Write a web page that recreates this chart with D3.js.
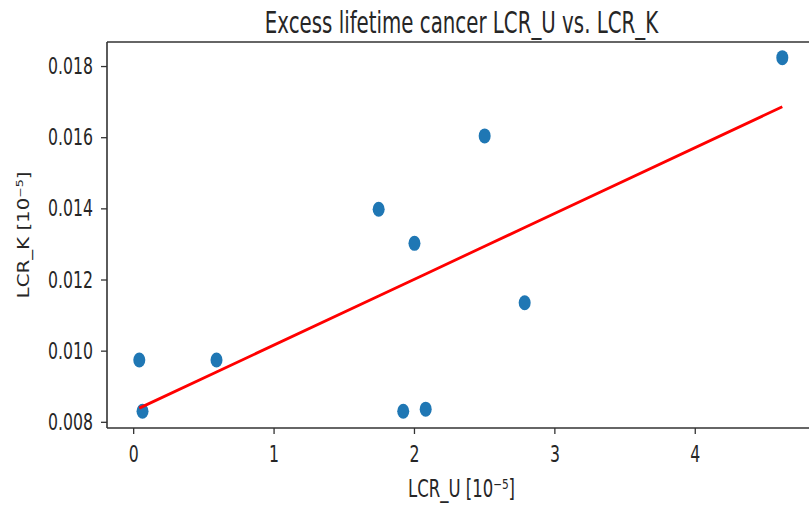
<!DOCTYPE html>
<html><head><meta charset="utf-8">
<script src="https://cdn.jsdelivr.net/npm/d3@7"></script>
<style>body{margin:0;background:#fff}svg{display:block}</style>
</head><body>
<svg id="c" width="809" height="507"></svg>
<script>
const lcrU = [0.04, 0.063, 0.59, 1.745, 2.0, 1.92, 2.08, 2.5, 2.785, 4.62];
const lcrK = [0.00975, 0.00831, 0.00975, 0.01399, 0.01303, 0.00831, 0.00837, 0.01605, 0.01136, 0.01825];
const xTicks = [0, 1, 2, 3, 4];
const yTicks = [0.008, 0.010, 0.012, 0.014, 0.016, 0.018];
const titleText = "Excess lifetime cancer LCR_U vs. LCR_K";
const xLabel = "LCR_U [10\u207B\u2075]";
const yLabel = "LCR_K [10\u207B\u2075]";

const svg = d3.select("#c");
const L = 107, R = 816, T = 42, B = 428;
const SY = 1.48;
const x = d3.scaleLinear().domain([-0.19, 4.86]).range([L, R]);
const y = d3.scaleLinear().domain([0.00784, 0.01869]).range([B, T]);

// regression
const n = lcrU.length;
const mx = d3.mean(lcrU), my = d3.mean(lcrK);
let sxy = 0, sxx = 0;
for (let i = 0; i < n; i++) { sxy += (lcrU[i]-mx)*(lcrK[i]-my); sxx += (lcrU[i]-mx)**2; }
const slope = sxy/sxx, icpt = my - slope*mx;

const font = "DejaVu Sans";
function txt(g, s, px, py, size, anchor, rot, base, sc) {
  const k = sc || SY;
  const t = g.append("g").attr("transform", `translate(${px},${py})` + (rot ? ` rotate(${rot})` : "") + (rot ? ` scale(${k},1)` : ` scale(1,${k})`));
  t.append("text").attr("font-family", font).attr("font-size", size).attr("fill", "#262626")
    .attr("text-anchor", anchor).attr("dominant-baseline", base || "central").text(s);
}

svg.append("clipPath").attr("id", "cp").append("rect").attr("x", L).attr("y", T).attr("width", R-L).attr("height", B-T);

// points
svg.append("g").attr("clip-path", "url(#cp)").selectAll("ellipse").data(d3.range(n)).join("ellipse")
  .attr("cx", i => x(lcrU[i])).attr("cy", i => y(lcrK[i])).attr("rx", 6).attr("ry", 7.5).attr("fill", "#1f77b4");

// regression line through points (as plotted)
const order = d3.range(n).sort((a,b) => lcrU[a]-lcrU[b]);
svg.append("path").attr("fill", "none").attr("stroke", "#ff0000").attr("stroke-width", 2.8)
  .attr("d", d3.line().x(i => x(lcrU[i])).y(i => y(slope*lcrU[i]+icpt))(order));

// spines
const ax = svg.append("g").attr("stroke", "#333").attr("stroke-width", 1.6).attr("fill", "none");
ax.append("line").attr("x1", L).attr("x2", R).attr("y1", T).attr("y2", T);
ax.append("line").attr("x1", L).attr("x2", R).attr("y1", B).attr("y2", B);
ax.append("line").attr("x1", L).attr("x2", L).attr("y1", T).attr("y2", B);
ax.append("line").attr("x1", R).attr("x2", R).attr("y1", T).attr("y2", B);

// ticks
const tg = svg.append("g");
xTicks.forEach(v => {
  tg.append("line").attr("x1", x(v)).attr("x2", x(v)).attr("y1", B).attr("y2", B+6).attr("stroke", "#333").attr("stroke-width", 1.3);
  txt(tg, String(v), x(v), B+26, 15.7, "middle");
});
yTicks.forEach(v => {
  tg.append("line").attr("x1", L-6).attr("x2", L).attr("y1", y(v)).attr("y2", y(v)).attr("stroke", "#333").attr("stroke-width", 1.3);
  txt(tg, d3.format(".3f")(v), L-14, y(v), 15.7, "end");
});

txt(svg, titleText, (L+R)/2, 33, 19.8, "middle", 0, "alphabetic");
txt(svg, xLabel, (L+R)/2, 489, 16.5, "middle");
txt(svg, yLabel, 23, (T+B)/2, 16.5, "middle", -90, "central", 1.2);
</script>
</body></html>
